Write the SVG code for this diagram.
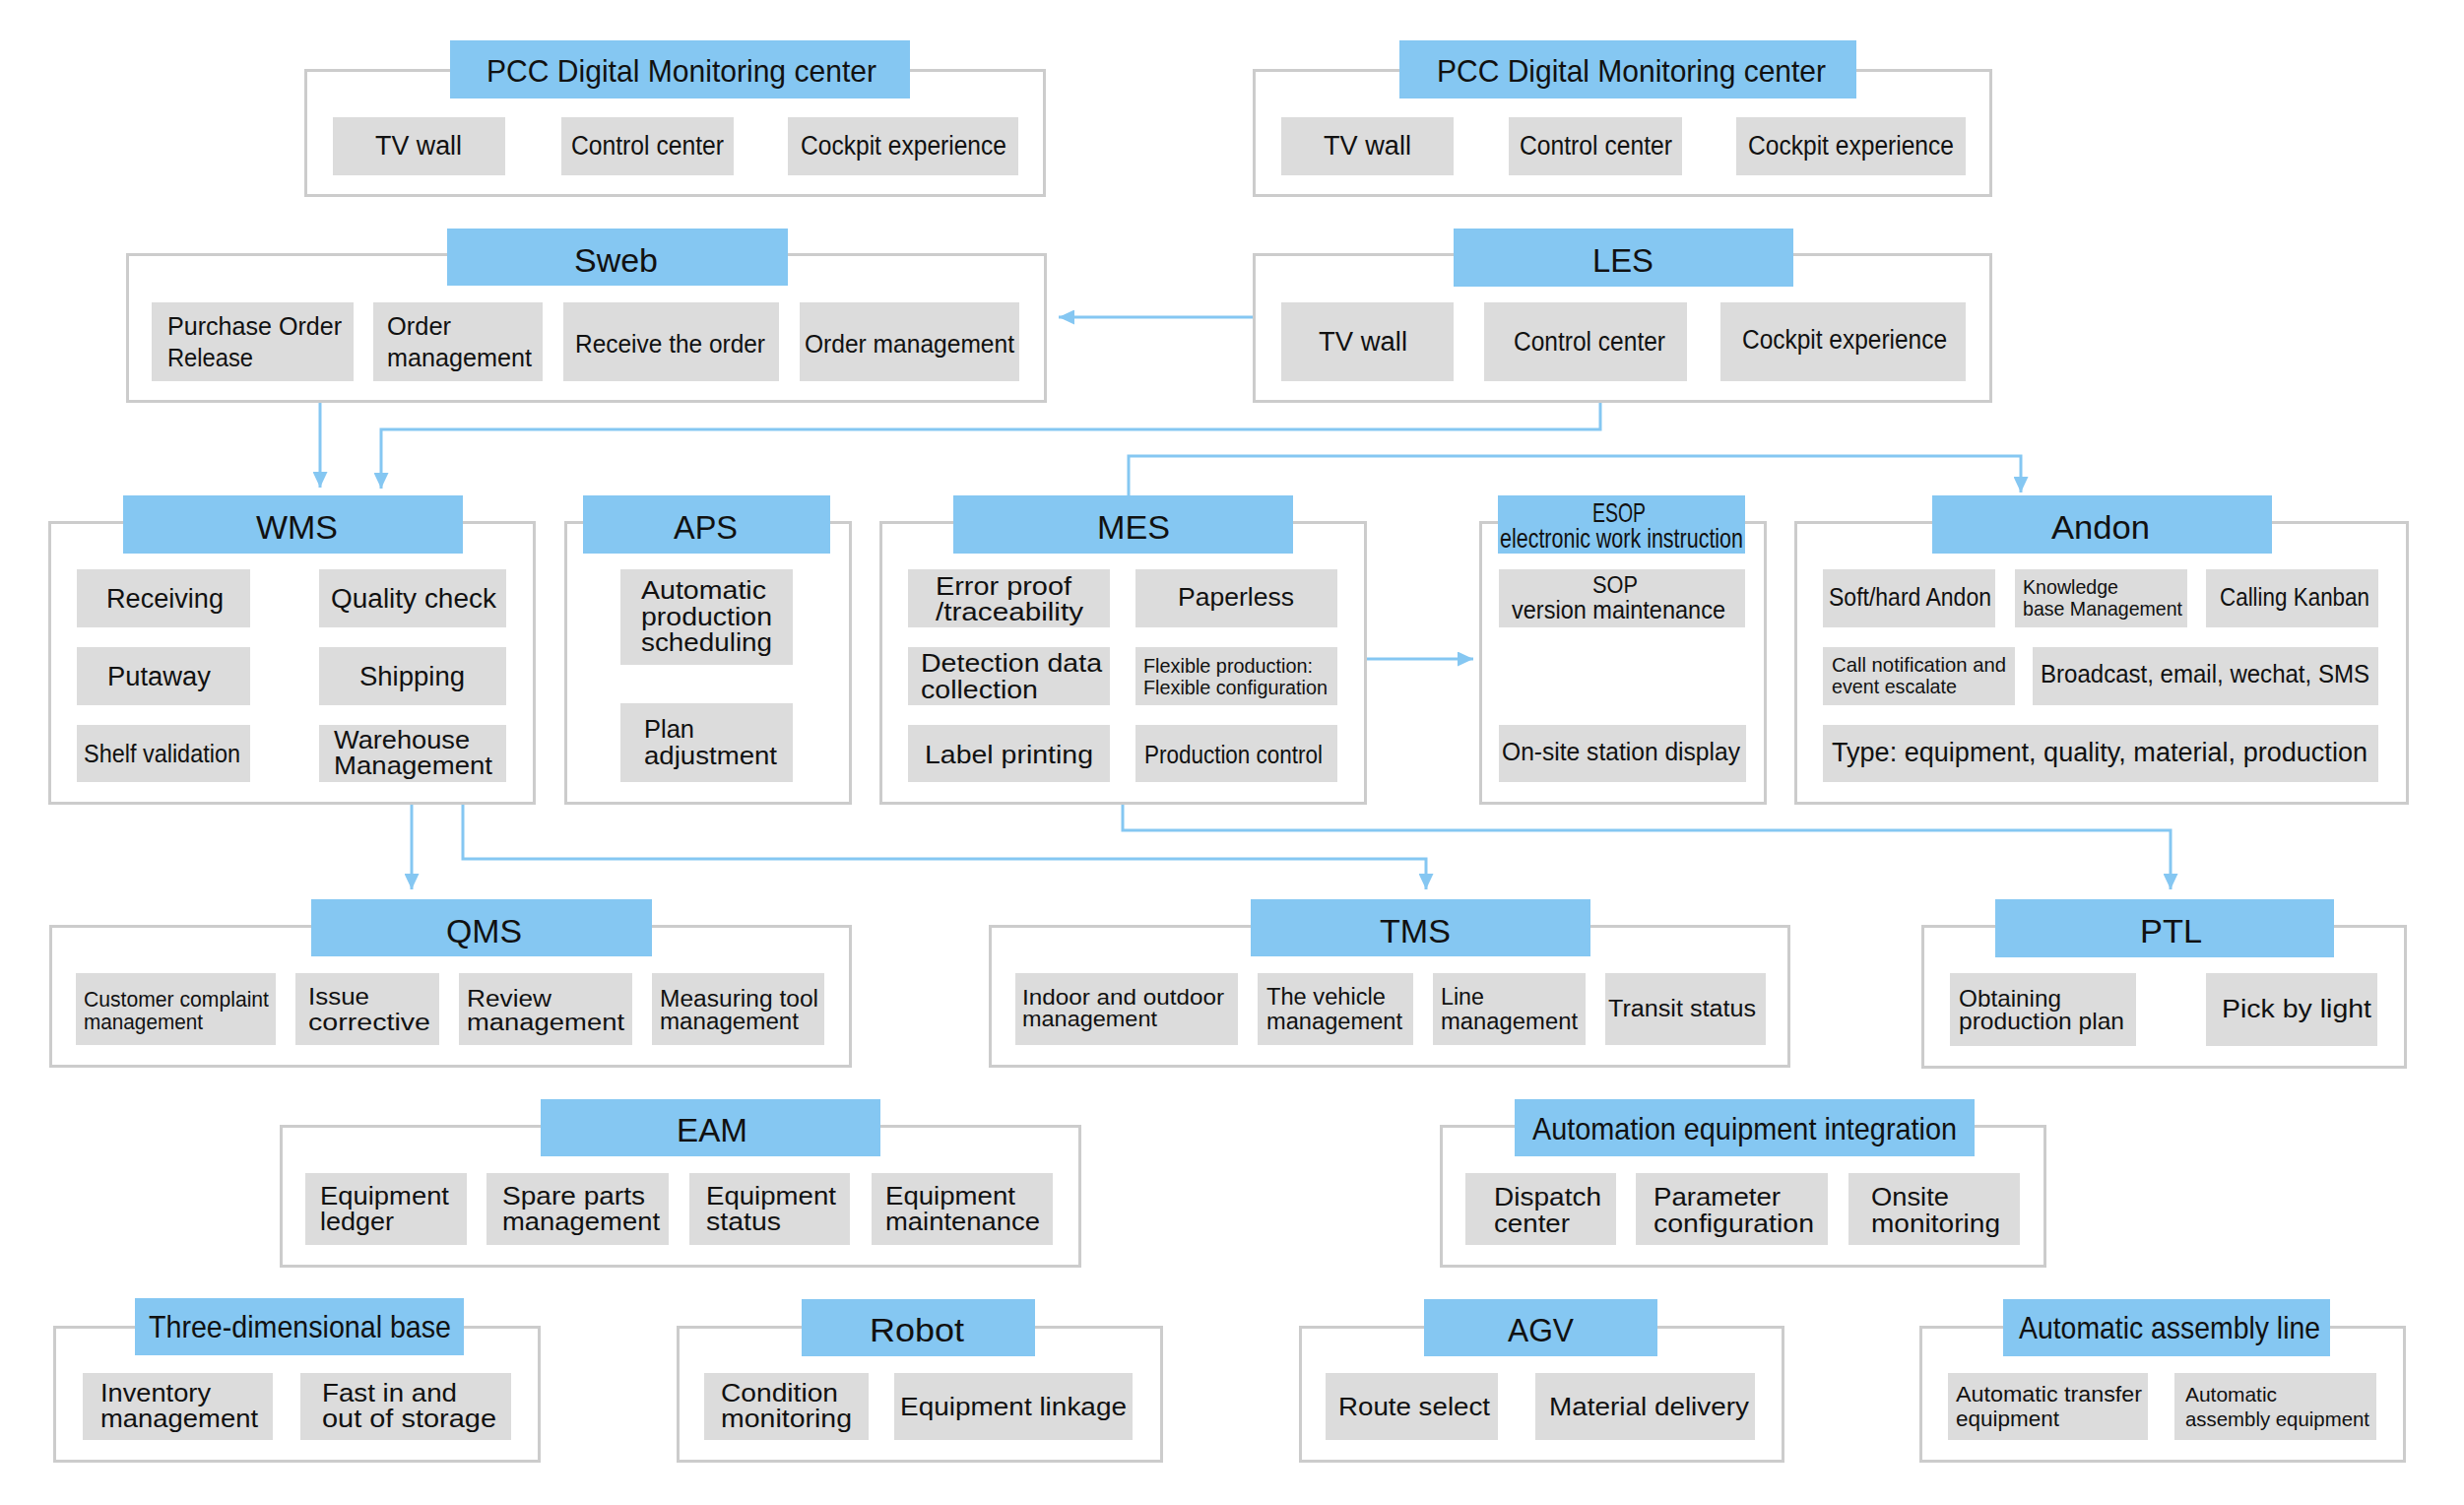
<svg xmlns="http://www.w3.org/2000/svg" width="2502" height="1528" viewBox="0 0 2502 1528">
<style>
.grp{fill:#ffffff;stroke:#cccccc;stroke-width:3}
.hd{fill:#85c7f2}
.it{fill:#dcdcdc}
text{font-family:'Liberation Sans',Arial,sans-serif;fill:#111111;font-size:26px}
.h1{font-size:33px}
.h2{font-size:32px}
.s28{font-size:28px}
.s27{font-size:27px}
.s25{font-size:25px}
.s24{font-size:24px}
.s23{font-size:23px}
.s22{font-size:22px}
.s21{font-size:21px}
.s20{font-size:20px}
.conn{fill:none;stroke:#85c7f2;stroke-width:3}
</style>
<defs>
<marker id="ah" markerWidth="16" markerHeight="15" refX="16" refY="7.5" orient="auto" markerUnits="userSpaceOnUse"><path d="M0,0 L16,7.5 L0,15 z" fill="#85c7f2"/></marker>
</defs>
<rect width="2502" height="1528" fill="#ffffff"/>

<g id="connectors">
<path class="conn" d="M1272,322 H1075" marker-end="url(#ah)"/>
<path class="conn" d="M325,409 V495" marker-end="url(#ah)"/>
<path class="conn" d="M1625,409 V436 H387 V496" marker-end="url(#ah)"/>
<path class="conn" d="M1146,503 V463 H2052 V500" marker-end="url(#ah)"/>
<path class="conn" d="M1388,669 H1496" marker-end="url(#ah)"/>
<path class="conn" d="M418,817 V903" marker-end="url(#ah)"/>
<path class="conn" d="M470,817 V872 H1448 V903" marker-end="url(#ah)"/>
<path class="conn" d="M1140,817 V843 H2204 V903" marker-end="url(#ah)"/>
</g>

<g id="pcc1">
<rect class="grp" x="310.5" y="71.5" width="750" height="127"/>
<rect class="hd" x="457" y="41" width="467" height="59"/>
<text class="h2" x="494" y="83" textLength="396" lengthAdjust="spacingAndGlyphs">PCC Digital Monitoring center</text>
<rect class="it" x="338" y="119" width="175" height="59"/>
<rect class="it" x="570" y="119" width="175" height="59"/>
<rect class="it" x="800" y="119" width="234" height="59"/>
<text class="s27" x="381" y="157" textLength="88" lengthAdjust="spacingAndGlyphs">TV wall</text>
<text class="s27" x="580" y="157" textLength="155" lengthAdjust="spacingAndGlyphs">Control center</text>
<text class="s27" x="813" y="157" textLength="209" lengthAdjust="spacingAndGlyphs">Cockpit experience</text>
</g>

<g id="pcc2">
<rect class="grp" x="1273.5" y="71.5" width="748" height="127"/>
<rect class="hd" x="1421" y="41" width="464" height="59"/>
<text class="h2" x="1459" y="83" textLength="395" lengthAdjust="spacingAndGlyphs">PCC Digital Monitoring center</text>
<rect class="it" x="1301" y="119" width="175" height="59"/>
<rect class="it" x="1532" y="119" width="176" height="59"/>
<rect class="it" x="1763" y="119" width="233" height="59"/>
<text class="s27" x="1344" y="157" textLength="89" lengthAdjust="spacingAndGlyphs">TV wall</text>
<text class="s27" x="1543" y="157" textLength="155" lengthAdjust="spacingAndGlyphs">Control center</text>
<text class="s27" x="1775" y="157" textLength="209" lengthAdjust="spacingAndGlyphs">Cockpit experience</text>
</g>

<g id="sweb">
<rect class="grp" x="129.5" y="258.5" width="932" height="149"/>
<rect class="hd" x="454" y="232" width="346" height="58"/>
<text class="h1" x="583" y="276" textLength="85" lengthAdjust="spacingAndGlyphs">Sweb</text>
<rect class="it" x="154" y="307" width="205" height="80"/>
<rect class="it" x="379" y="307" width="172" height="80"/>
<rect class="it" x="572" y="307" width="219" height="80"/>
<rect class="it" x="812" y="307" width="223" height="80"/>
<text class="s26" x="170" y="340" textLength="177" lengthAdjust="spacingAndGlyphs">Purchase Order</text>
<text class="s26" x="170" y="372" textLength="87" lengthAdjust="spacingAndGlyphs">Release</text>
<text class="s26" x="393" y="340" textLength="65" lengthAdjust="spacingAndGlyphs">Order</text>
<text class="s26" x="393" y="372" textLength="147" lengthAdjust="spacingAndGlyphs">management</text>
<text class="s26" x="584" y="358" textLength="193" lengthAdjust="spacingAndGlyphs">Receive the order</text>
<text class="s26" x="817" y="358" textLength="213" lengthAdjust="spacingAndGlyphs">Order management</text>
</g>

<g id="les">
<rect class="grp" x="1273.5" y="258.5" width="748" height="149"/>
<rect class="hd" x="1476" y="232" width="345" height="59"/>
<text class="h1" x="1617" y="276" textLength="62" lengthAdjust="spacingAndGlyphs">LES</text>
<rect class="it" x="1301" y="307" width="175" height="80"/>
<rect class="it" x="1507" y="307" width="206" height="80"/>
<rect class="it" x="1747" y="307" width="249" height="80"/>
<text class="s27" x="1339" y="356" textLength="90" lengthAdjust="spacingAndGlyphs">TV wall</text>
<text class="s27" x="1537" y="356" textLength="154" lengthAdjust="spacingAndGlyphs">Control center</text>
<text class="s27" x="1769" y="354" textLength="208" lengthAdjust="spacingAndGlyphs">Cockpit experience</text>
</g>

<g id="wms">
<rect class="grp" x="50.5" y="530.5" width="492" height="285"/>
<rect class="hd" x="125" y="503" width="345" height="59"/>
<text class="h1" x="260" y="547" textLength="83" lengthAdjust="spacingAndGlyphs">WMS</text>
<rect class="it" x="78" y="578" width="176" height="59"/>
<rect class="it" x="324" y="578" width="190" height="59"/>
<rect class="it" x="78" y="657" width="176" height="59"/>
<rect class="it" x="324" y="657" width="190" height="59"/>
<rect class="it" x="78" y="736" width="176" height="58"/>
<rect class="it" x="324" y="736" width="190" height="58"/>
<text class="s27" x="108" y="617" textLength="119" lengthAdjust="spacingAndGlyphs">Receiving</text>
<text class="s27" x="336" y="617" textLength="168" lengthAdjust="spacingAndGlyphs">Quality check</text>
<text class="s27" x="109" y="696" textLength="105" lengthAdjust="spacingAndGlyphs">Putaway</text>
<text class="s27" x="365" y="696" textLength="107" lengthAdjust="spacingAndGlyphs">Shipping</text>
<text class="s25" x="85" y="774" textLength="159" lengthAdjust="spacingAndGlyphs">Shelf validation</text>
<text class="s26" x="339" y="760" textLength="138" lengthAdjust="spacingAndGlyphs">Warehouse</text>
<text class="s26" x="339" y="786" textLength="161" lengthAdjust="spacingAndGlyphs">Management</text>
</g>

<g id="aps">
<rect class="grp" x="574.5" y="530.5" width="289" height="285"/>
<rect class="hd" x="592" y="503" width="251" height="59"/>
<text class="h1" x="684" y="547" textLength="65" lengthAdjust="spacingAndGlyphs">APS</text>
<rect class="it" x="630" y="578" width="175" height="97"/>
<rect class="it" x="630" y="714" width="175" height="80"/>
<text class="s26" x="651" y="608" textLength="127" lengthAdjust="spacingAndGlyphs">Automatic</text>
<text class="s26" x="651" y="635" textLength="133" lengthAdjust="spacingAndGlyphs">production</text>
<text class="s26" x="651" y="661" textLength="133" lengthAdjust="spacingAndGlyphs">scheduling</text>
<text class="s26" x="654" y="749" textLength="51" lengthAdjust="spacingAndGlyphs">Plan</text>
<text class="s26" x="654" y="776" textLength="135" lengthAdjust="spacingAndGlyphs">adjustment</text>
</g>

<g id="mes">
<rect class="grp" x="894.5" y="530.5" width="492" height="285"/>
<rect class="hd" x="968" y="503" width="345" height="59"/>
<text class="h1" x="1114" y="547" textLength="74" lengthAdjust="spacingAndGlyphs">MES</text>
<rect class="it" x="922" y="578" width="205" height="59"/>
<rect class="it" x="1153" y="578" width="205" height="59"/>
<rect class="it" x="922" y="657" width="205" height="59"/>
<rect class="it" x="1153" y="657" width="205" height="59"/>
<rect class="it" x="922" y="736" width="205" height="58"/>
<rect class="it" x="1153" y="736" width="205" height="58"/>
<text class="s26" x="950" y="604" textLength="138" lengthAdjust="spacingAndGlyphs">Error proof</text>
<text class="s26" x="950" y="630" textLength="150" lengthAdjust="spacingAndGlyphs">/traceability</text>
<text class="s26" x="1196" y="615" textLength="118" lengthAdjust="spacingAndGlyphs">Paperless</text>
<text class="s26" x="935" y="682" textLength="184" lengthAdjust="spacingAndGlyphs">Detection data</text>
<text class="s26" x="935" y="709" textLength="119" lengthAdjust="spacingAndGlyphs">collection</text>
<text class="s20" x="1161" y="683" textLength="172" lengthAdjust="spacingAndGlyphs">Flexible production:</text>
<text class="s20" x="1161" y="705" textLength="187" lengthAdjust="spacingAndGlyphs">Flexible configuration</text>
<text class="s26" x="939" y="775" textLength="171" lengthAdjust="spacingAndGlyphs">Label printing</text>
<text class="s25" x="1162" y="775" textLength="181" lengthAdjust="spacingAndGlyphs">Production control</text>
</g>

<g id="esop">
<rect class="grp" x="1503.5" y="530.5" width="289" height="285"/>
<rect class="hd" x="1521" y="503" width="251" height="59"/>
<text class="s28" x="1617" y="530" textLength="54" lengthAdjust="spacingAndGlyphs">ESOP</text>
<text class="s28" x="1523" y="556" textLength="247" lengthAdjust="spacingAndGlyphs">electronic work instruction</text>
<rect class="it" x="1522" y="578" width="250" height="59"/>
<rect class="it" x="1522" y="736" width="251" height="58"/>
<text class="s24" x="1617" y="602" textLength="46" lengthAdjust="spacingAndGlyphs">SOP</text>
<text class="s25" x="1535" y="628" textLength="217" lengthAdjust="spacingAndGlyphs">version maintenance</text>
<text class="s26" x="1525" y="772" textLength="242" lengthAdjust="spacingAndGlyphs">On-site station display</text>
</g>

<g id="andon">
<rect class="grp" x="1823.5" y="530.5" width="621" height="285"/>
<rect class="hd" x="1962" y="503" width="345" height="59"/>
<text class="h1" x="2083" y="547" textLength="100" lengthAdjust="spacingAndGlyphs">Andon</text>
<rect class="it" x="1851" y="578" width="175" height="59"/>
<rect class="it" x="2046" y="578" width="175" height="59"/>
<rect class="it" x="2240" y="578" width="175" height="59"/>
<rect class="it" x="1851" y="657" width="195" height="59"/>
<rect class="it" x="2064" y="657" width="351" height="59"/>
<rect class="it" x="1851" y="736" width="564" height="58"/>
<text class="s25" x="1857" y="615" textLength="165" lengthAdjust="spacingAndGlyphs">Soft/hard Andon</text>
<text class="s21" x="2054" y="603" textLength="97" lengthAdjust="spacingAndGlyphs">Knowledge</text>
<text class="s21" x="2054" y="625" textLength="162" lengthAdjust="spacingAndGlyphs">base Management</text>
<text class="s25" x="2254" y="615" textLength="152" lengthAdjust="spacingAndGlyphs">Calling Kanban</text>
<text class="s21" x="1860" y="682" textLength="177" lengthAdjust="spacingAndGlyphs">Call notification and</text>
<text class="s21" x="1860" y="704" textLength="127" lengthAdjust="spacingAndGlyphs">event escalate</text>
<text class="s25" x="2072" y="693" textLength="334" lengthAdjust="spacingAndGlyphs">Broadcast, email, wechat, SMS</text>
<text class="s27" x="1860" y="773" textLength="544" lengthAdjust="spacingAndGlyphs">Type: equipment, quality, material, production</text>
</g>

<g id="qms">
<rect class="grp" x="51.5" y="940.5" width="812" height="142"/>
<rect class="hd" x="316" y="913" width="346" height="58"/>
<text class="h1" x="453" y="957" textLength="77" lengthAdjust="spacingAndGlyphs">QMS</text>
<rect class="it" x="77" y="988" width="203" height="73"/>
<rect class="it" x="300" y="988" width="146" height="73"/>
<rect class="it" x="466" y="988" width="176" height="73"/>
<rect class="it" x="662" y="988" width="175" height="73"/>
<text class="s22" x="85" y="1022" textLength="188" lengthAdjust="spacingAndGlyphs">Customer complaint</text>
<text class="s22" x="85" y="1045" textLength="121" lengthAdjust="spacingAndGlyphs">management</text>
<text class="s23" x="313" y="1020" textLength="62" lengthAdjust="spacingAndGlyphs">Issue</text>
<text class="s23" x="313" y="1046" textLength="124" lengthAdjust="spacingAndGlyphs">corrective</text>
<text class="s23" x="474" y="1022" textLength="86" lengthAdjust="spacingAndGlyphs">Review</text>
<text class="s23" x="474" y="1046" textLength="160" lengthAdjust="spacingAndGlyphs">management</text>
<text class="s23" x="670" y="1022" textLength="161" lengthAdjust="spacingAndGlyphs">Measuring tool</text>
<text class="s23" x="670" y="1045" textLength="141" lengthAdjust="spacingAndGlyphs">management</text>
</g>

<g id="tms">
<rect class="grp" x="1005.5" y="940.5" width="811" height="142"/>
<rect class="hd" x="1270" y="913" width="345" height="58"/>
<text class="h1" x="1401" y="957" textLength="72" lengthAdjust="spacingAndGlyphs">TMS</text>
<rect class="it" x="1031" y="988" width="226" height="73"/>
<rect class="it" x="1277" y="988" width="158" height="73"/>
<rect class="it" x="1455" y="988" width="155" height="73"/>
<rect class="it" x="1630" y="988" width="163" height="73"/>
<text class="s22" x="1038" y="1020" textLength="205" lengthAdjust="spacingAndGlyphs">Indoor and outdoor</text>
<text class="s22" x="1038" y="1042" textLength="137" lengthAdjust="spacingAndGlyphs">management</text>
<text class="s23" x="1286" y="1020" textLength="121" lengthAdjust="spacingAndGlyphs">The vehicle</text>
<text class="s23" x="1286" y="1045" textLength="138" lengthAdjust="spacingAndGlyphs">management</text>
<text class="s23" x="1463" y="1020" textLength="44" lengthAdjust="spacingAndGlyphs">Line</text>
<text class="s23" x="1463" y="1045" textLength="139" lengthAdjust="spacingAndGlyphs">management</text>
<text class="s23" x="1633" y="1032" textLength="150" lengthAdjust="spacingAndGlyphs">Transit status</text>
</g>

<g id="ptl">
<rect class="grp" x="1952.5" y="940.5" width="490" height="143"/>
<rect class="hd" x="2026" y="913" width="344" height="59"/>
<text class="h1" x="2173" y="957" textLength="63" lengthAdjust="spacingAndGlyphs">PTL</text>
<rect class="it" x="1980" y="988" width="189" height="74"/>
<rect class="it" x="2240" y="988" width="174" height="74"/>
<text class="s24" x="1989" y="1022" textLength="104" lengthAdjust="spacingAndGlyphs">Obtaining</text>
<text class="s24" x="1989" y="1045" textLength="168" lengthAdjust="spacingAndGlyphs">production plan</text>
<text class="s26" x="2256" y="1033" textLength="152" lengthAdjust="spacingAndGlyphs">Pick by light</text>
</g>

<g id="eam">
<rect class="grp" x="285.5" y="1143.5" width="811" height="142"/>
<rect class="hd" x="549" y="1116" width="345" height="58"/>
<text class="h1" x="687" y="1159" textLength="72" lengthAdjust="spacingAndGlyphs">EAM</text>
<rect class="it" x="310" y="1191" width="164" height="73"/>
<rect class="it" x="494" y="1191" width="185" height="73"/>
<rect class="it" x="700" y="1191" width="163" height="73"/>
<rect class="it" x="885" y="1191" width="184" height="73"/>
<text class="s26" x="325" y="1223" textLength="131" lengthAdjust="spacingAndGlyphs">Equipment</text>
<text class="s26" x="325" y="1249" textLength="75" lengthAdjust="spacingAndGlyphs">ledger</text>
<text class="s26" x="510" y="1223" textLength="145" lengthAdjust="spacingAndGlyphs">Spare parts</text>
<text class="s26" x="510" y="1249" textLength="160" lengthAdjust="spacingAndGlyphs">management</text>
<text class="s26" x="717" y="1223" textLength="132" lengthAdjust="spacingAndGlyphs">Equipment</text>
<text class="s26" x="717" y="1249" textLength="76" lengthAdjust="spacingAndGlyphs">status</text>
<text class="s26" x="899" y="1223" textLength="132" lengthAdjust="spacingAndGlyphs">Equipment</text>
<text class="s26" x="899" y="1249" textLength="157" lengthAdjust="spacingAndGlyphs">maintenance</text>
</g>

<g id="aei">
<rect class="grp" x="1463.5" y="1143.5" width="613" height="142"/>
<rect class="hd" x="1538" y="1116" width="467" height="58"/>
<text class="h2" x="1556" y="1157" textLength="431" lengthAdjust="spacingAndGlyphs">Automation equipment integration</text>
<rect class="it" x="1488" y="1191" width="153" height="73"/>
<rect class="it" x="1661" y="1191" width="195" height="73"/>
<rect class="it" x="1877" y="1191" width="174" height="73"/>
<text class="s26" x="1517" y="1224" textLength="109" lengthAdjust="spacingAndGlyphs">Dispatch</text>
<text class="s26" x="1517" y="1251" textLength="77" lengthAdjust="spacingAndGlyphs">center</text>
<text class="s26" x="1679" y="1224" textLength="129" lengthAdjust="spacingAndGlyphs">Parameter</text>
<text class="s26" x="1679" y="1251" textLength="163" lengthAdjust="spacingAndGlyphs">configuration</text>
<text class="s26" x="1900" y="1224" textLength="79" lengthAdjust="spacingAndGlyphs">Onsite</text>
<text class="s26" x="1900" y="1251" textLength="131" lengthAdjust="spacingAndGlyphs">monitoring</text>
</g>

<g id="base3d">
<rect class="grp" x="55.5" y="1347.5" width="492" height="136"/>
<rect class="hd" x="137" y="1318" width="334" height="58"/>
<text class="h2" x="151" y="1358" textLength="307" lengthAdjust="spacingAndGlyphs">Three-dimensional base</text>
<rect class="it" x="84" y="1394" width="193" height="68"/>
<rect class="it" x="305" y="1394" width="214" height="68"/>
<text class="s26" x="102" y="1423" textLength="112" lengthAdjust="spacingAndGlyphs">Inventory</text>
<text class="s26" x="102" y="1449" textLength="160" lengthAdjust="spacingAndGlyphs">management</text>
<text class="s26" x="327" y="1423" textLength="137" lengthAdjust="spacingAndGlyphs">Fast in and</text>
<text class="s26" x="327" y="1449" textLength="177" lengthAdjust="spacingAndGlyphs">out of storage</text>
</g>

<g id="robot">
<rect class="grp" x="688.5" y="1347.5" width="491" height="136"/>
<rect class="hd" x="814" y="1319" width="237" height="58"/>
<text class="h1" x="883" y="1362" textLength="96" lengthAdjust="spacingAndGlyphs">Robot</text>
<rect class="it" x="715" y="1394" width="167" height="68"/>
<rect class="it" x="908" y="1394" width="242" height="68"/>
<text class="s26" x="732" y="1423" textLength="119" lengthAdjust="spacingAndGlyphs">Condition</text>
<text class="s26" x="732" y="1449" textLength="133" lengthAdjust="spacingAndGlyphs">monitoring</text>
<text class="s26" x="914" y="1437" textLength="230" lengthAdjust="spacingAndGlyphs">Equipment linkage</text>
</g>

<g id="agv">
<rect class="grp" x="1320.5" y="1347.5" width="490" height="136"/>
<rect class="hd" x="1446" y="1319" width="237" height="58"/>
<text class="h1" x="1531" y="1362" textLength="67" lengthAdjust="spacingAndGlyphs">AGV</text>
<rect class="it" x="1346" y="1394" width="175" height="68"/>
<rect class="it" x="1559" y="1394" width="223" height="68"/>
<text class="s26" x="1359" y="1437" textLength="154" lengthAdjust="spacingAndGlyphs">Route select</text>
<text class="s26" x="1573" y="1437" textLength="203" lengthAdjust="spacingAndGlyphs">Material delivery</text>
</g>

<g id="aal">
<rect class="grp" x="1950.5" y="1347.5" width="491" height="136"/>
<rect class="hd" x="2034" y="1319" width="332" height="58"/>
<text class="h2" x="2050" y="1359" textLength="306" lengthAdjust="spacingAndGlyphs">Automatic assembly line</text>
<rect class="it" x="1978" y="1394" width="203" height="68"/>
<rect class="it" x="2208" y="1394" width="205" height="68"/>
<text class="s22" x="1986" y="1423" textLength="189" lengthAdjust="spacingAndGlyphs">Automatic transfer</text>
<text class="s22" x="1986" y="1448" textLength="105" lengthAdjust="spacingAndGlyphs">equipment</text>
<text class="s21" x="2219" y="1423" textLength="93" lengthAdjust="spacingAndGlyphs">Automatic</text>
<text class="s21" x="2219" y="1448" textLength="187" lengthAdjust="spacingAndGlyphs">assembly equipment</text>
</g>
</svg>
